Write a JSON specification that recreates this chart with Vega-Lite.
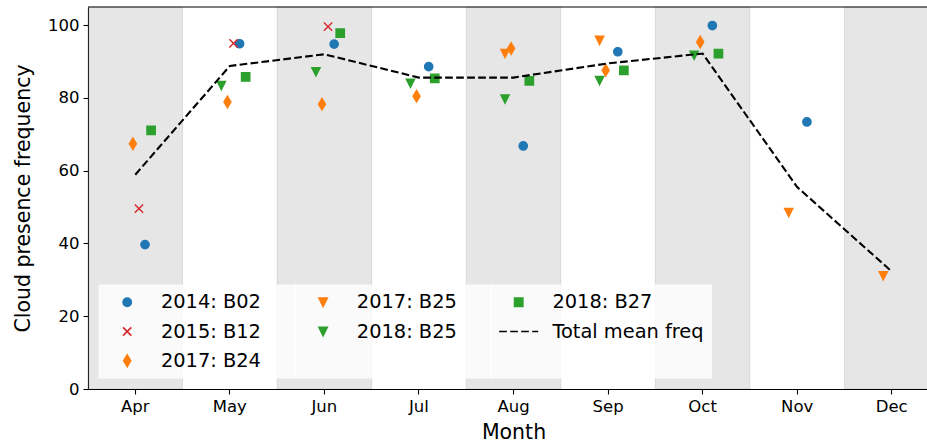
{
  "$schema": "https://vega.github.io/schema/vega-lite/v6.json",
  "autosize": {"type": "none"},
  "padding": {"left": 88, "top": 7, "right": 0, "bottom": 58},
  "width": 839,
  "height": 382,
  "config": {
    "font": "DejaVu Sans",
    "view": {"stroke": null},
    "axis": {
      "labelFont": "DejaVu Sans", "labelFontSize": 16.5, "labelColor": "#000",
      "titleFont": "DejaVu Sans", "titleFontSize": 20.5, "titleFontWeight": "normal", "titleColor": "#000",
      "domainColor": "#000", "domainWidth": 1.1, "tickColor": "#000", "tickWidth": 1.1, "tickSize": 5,
      "grid": false
    },
    "legend": {
      "title": null, "orient": "none", "legendY": 277.5,
      "rowPadding": 8.3, "padding": 8,
      "labelFont": "DejaVu Sans", "labelFontSize": 19.4, "labelColor": "#000", "labelOffset": 24, "symbolOffset": 11,
      "symbolSize": 69, "symbolStrokeWidth": 1.6,
      "fillColor": "rgba(255,255,255,0.8)", "strokeColor": "transparent", "strokeWidth": 0
    }
  },
  "resolve": {"scale": {"xOffset": "independent", "fill": "independent", "stroke": "independent", "shape": "independent", "strokeDash": "independent"}},
  "datasets": {
    "points": [
      {"month": "Apr", "series": "2014: B02", "band": "B02", "freq": 39.7},
      {"month": "Apr", "series": "2015: B12", "band": "B12", "freq": 49.6},
      {"month": "Apr", "series": "2017: B24", "band": "B24", "freq": 67.4},
      {"month": "Apr", "series": "2018: B27", "band": "B27", "freq": 71.1},
      {"month": "May", "series": "2014: B02", "band": "B02", "freq": 94.9},
      {"month": "May", "series": "2015: B12", "band": "B12", "freq": 95.0},
      {"month": "May", "series": "2017: B24", "band": "B24", "freq": 78.9},
      {"month": "May", "series": "2018: B25", "band": "B25", "freq": 83.4},
      {"month": "May", "series": "2018: B27", "band": "B27", "freq": 85.8},
      {"month": "Jun", "series": "2014: B02", "band": "B02", "freq": 94.8},
      {"month": "Jun", "series": "2015: B12", "band": "B12", "freq": 99.6},
      {"month": "Jun", "series": "2017: B24", "band": "B24", "freq": 78.3},
      {"month": "Jun", "series": "2018: B25", "band": "B25", "freq": 87.2},
      {"month": "Jun", "series": "2018: B27", "band": "B27", "freq": 97.8},
      {"month": "Jul", "series": "2014: B02", "band": "B02", "freq": 88.6},
      {"month": "Jul", "series": "2017: B24", "band": "B24", "freq": 80.5},
      {"month": "Jul", "series": "2018: B25", "band": "B25", "freq": 84.0},
      {"month": "Jul", "series": "2018: B27", "band": "B27", "freq": 85.4},
      {"month": "Aug", "series": "2014: B02", "band": "B02", "freq": 66.8},
      {"month": "Aug", "series": "2017: B24", "band": "B24", "freq": 93.6},
      {"month": "Aug", "series": "2017: B25", "band": "B25", "freq": 92.2},
      {"month": "Aug", "series": "2018: B25", "band": "B25", "freq": 79.7},
      {"month": "Aug", "series": "2018: B27", "band": "B27", "freq": 84.7},
      {"month": "Sep", "series": "2014: B02", "band": "B02", "freq": 92.7},
      {"month": "Sep", "series": "2017: B24", "band": "B24", "freq": 87.6},
      {"month": "Sep", "series": "2017: B25", "band": "B25", "freq": 95.8},
      {"month": "Sep", "series": "2018: B25", "band": "B25", "freq": 84.8},
      {"month": "Sep", "series": "2018: B27", "band": "B27", "freq": 87.6},
      {"month": "Oct", "series": "2014: B02", "band": "B02", "freq": 99.9},
      {"month": "Oct", "series": "2017: B24", "band": "B24", "freq": 95.4},
      {"month": "Oct", "series": "2018: B25", "band": "B25", "freq": 91.7},
      {"month": "Oct", "series": "2018: B27", "band": "B27", "freq": 92.2},
      {"month": "Nov", "series": "2014: B02", "band": "B02", "freq": 73.4},
      {"month": "Nov", "series": "2017: B25", "band": "B25", "freq": 48.5},
      {"month": "Dec", "series": "2017: B25", "band": "B25", "freq": 31.1}
    ],
    "mean": [
      {"month": "Apr", "series": "Total mean freq", "freq": 58.9},
      {"month": "May", "series": "Total mean freq", "freq": 88.8},
      {"month": "Jun", "series": "Total mean freq", "freq": 92.0},
      {"month": "Jul", "series": "Total mean freq", "freq": 85.6},
      {"month": "Aug", "series": "Total mean freq", "freq": 85.6},
      {"month": "Sep", "series": "Total mean freq", "freq": 89.5},
      {"month": "Oct", "series": "Total mean freq", "freq": 92.2},
      {"month": "Nov", "series": "Total mean freq", "freq": 55.5},
      {"month": "Dec", "series": "Total mean freq", "freq": 32.3}
    ],
    "shaded": [
      {"month": "Apr"}, {"month": "Jun"}, {"month": "Aug"}, {"month": "Oct"}, {"month": "Dec"}
    ]
  },
  "layer": [
    {
      "data": {"name": "shaded"},
      "mark": {"type": "rect", "fill": "#808080", "fillOpacity": 0.2, "stroke": "#808080", "strokeOpacity": 0.2, "strokeWidth": 1},
      "encoding": {
        "x": {
          "field": "month", "type": "ordinal",
          "scale": {"type": "band", "domain": ["Apr", "May", "Jun", "Jul", "Aug", "Sep", "Oct", "Nov", "Dec"], "range": [0, 851], "paddingInner": 0, "paddingOuter": 0},
          "axis": {"title": "Month", "labelAngle": 0, "labelPadding": 4, "titlePadding": 8}
        }
      }
    },
    {
      "data": {"name": "points"},
      "transform": [{"filter": {"field": "series", "oneOf": ["2014: B02", "2015: B12", "2017: B24"]}}],
      "mark": {"type": "point", "filled": true, "size": 69, "strokeWidth": 1.4, "opacity": 1},
      "encoding": {
        "x": {"field": "month", "type": "ordinal"},
        "xOffset": {
          "field": "band", "type": "nominal",
          "scale": {"type": "point", "domain": ["B25", "B24", "B12", "B02", "B27"], "range": [38.8, 63.1], "padding": 0}
        },
        "y": {
          "field": "freq", "type": "quantitative",
          "scale": {"domain": [0, 105], "nice": false, "zero": true},
          "axis": {"title": "Cloud presence frequency", "values": [0, 20, 40, 60, 80, 100], "labelPadding": 4, "titlePadding": 14}
        },
        "fill": {
          "field": "series", "type": "nominal",
          "scale": {"domain": ["2014: B02", "2015: B12", "2017: B24"], "range": ["#1f77b4", "#d62728", "#ff7f0e"]},
          "legend": {"legendX": 10.5}
        },
        "stroke": {
          "field": "series", "type": "nominal",
          "scale": {"domain": ["2014: B02", "2015: B12", "2017: B24"], "range": ["#1f77b4", "#d62728", "#ff7f0e"]}
        },
        "shape": {
          "field": "series", "type": "nominal",
          "scale": {
            "domain": ["2014: B02", "2015: B12", "2017: B24"],
            "range": [
              "M-4.7,0M38,0M1,0A1,1,0,1,1,-1,0A1,1,0,1,1,1,0Z",
              "M-4.7,0M38,0M-1,-1L1,1M-1,1L1,-1",
              "M-4.7,0M38,0M0,-1.414L0.85,0L0,1.414L-0.85,0Z"
            ]
          }
        }
      }
    },
    {
      "data": {"name": "points"},
      "transform": [{"filter": {"field": "series", "oneOf": ["2017: B25", "2018: B25"]}}],
      "mark": {"type": "point", "filled": true, "size": 69, "strokeWidth": 1.4, "opacity": 1},
      "encoding": {
        "x": {"field": "month", "type": "ordinal"},
        "xOffset": {
          "field": "band", "type": "nominal",
          "scale": {"type": "point", "domain": ["B25", "B24", "B12", "B02", "B27"], "range": [38.8, 63.1], "padding": 0}
        },
        "y": {"field": "freq", "type": "quantitative"},
        "fill": {
          "field": "series", "type": "nominal",
          "scale": {"domain": ["2017: B25", "2018: B25"], "range": ["#ff7f0e", "#2ca02c"]},
          "legend": {"legendX": 206.4}
        },
        "stroke": {
          "field": "series", "type": "nominal",
          "scale": {"domain": ["2017: B25", "2018: B25"], "range": ["#ff7f0e", "#2ca02c"]}
        },
        "shape": {
          "field": "series", "type": "nominal",
          "scale": {
            "domain": ["2017: B25", "2018: B25"],
            "range": [
              "M-4.7,0M38,0M-1,-1L1,-1L0,1Z",
              "M-4.7,0M38,0M0,8.58M-1,-1L1,-1L0,1Z"
            ]
          }
        }
      }
    },
    {
      "resolve": {"scale": {"xOffset": "independent"}},
      "layer": [
        {
          "data": {"name": "points"},
          "transform": [{"filter": {"field": "series", "oneOf": ["2018: B27"]}}],
          "mark": {"type": "point", "filled": true, "size": 69, "strokeWidth": 1.4, "opacity": 1},
          "encoding": {
            "x": {"field": "month", "type": "ordinal"},
            "xOffset": {
              "field": "band", "type": "nominal",
              "scale": {"type": "point", "domain": ["B25", "B24", "B12", "B02", "B27"], "range": [38.8, 63.1], "padding": 0}
            },
            "y": {"field": "freq", "type": "quantitative"},
            "fill": {
              "field": "series", "type": "nominal",
              "scale": {"domain": ["2018: B27", "Total mean freq"], "range": ["#2ca02c", "#000000"]},
              "legend": {"legendX": 402}
            },
            "stroke": {
              "field": "series", "type": "nominal",
              "scale": {"domain": ["2018: B27", "Total mean freq"], "range": ["#2ca02c", "#000000"]}
            },
            "shape": {
              "field": "series", "type": "nominal",
              "scale": {
                "domain": ["2018: B27", "Total mean freq"],
                "range": ["M-4.7,0M4.7,0M-1,-1H1V1H-1Z", "M-4.7,0H4.7M0,8.58"]
              }
            }
          }
        },
        {
          "data": {"name": "mean"},
          "mark": {"type": "line", "strokeWidth": 2.1},
          "encoding": {
            "x": {"field": "month", "type": "ordinal"},
            "y": {"field": "freq", "type": "quantitative"},
            "stroke": {
              "field": "series", "type": "nominal",
              "scale": {"domain": ["2018: B27", "Total mean freq"], "range": ["#2ca02c", "#000000"]}
            },
            "strokeDash": {
              "field": "series", "type": "nominal",
              "scale": {"domain": ["2018: B27", "Total mean freq"], "range": [[1, 0], [7.7, 3.3]]}
            }
          }
        }
      ]
    },
    {
      "data": {"values": [{}]},
      "mark": {"type": "rule", "color": "#000", "strokeWidth": 1.1},
      "encoding": {"y": {"datum": 105}}
    }
  ]
}
